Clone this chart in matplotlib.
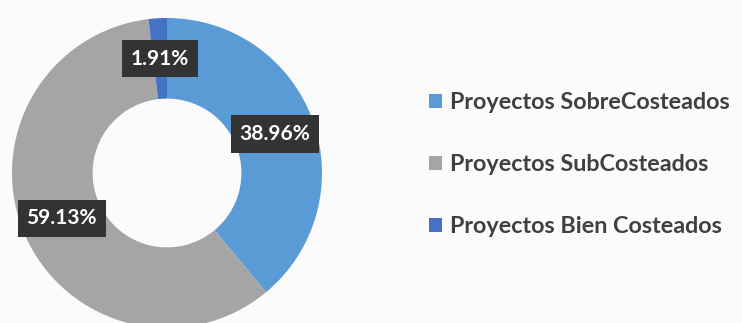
import matplotlib.pyplot as plt
from matplotlib.patches import Patch

categories = ["Proyectos SobreCosteados", "Proyectos SubCosteados", "Proyectos Bien Costeados"]
shares = [38.96, 59.13, 1.91]
colors = ["#5B9BD5", "#A5A5A5", "#4472C4"]

plt.rcParams["font.family"] = ["Lato", "DejaVu Sans"]

fig = plt.figure(figsize=(7.42, 3.23), dpi=100)
fig.patch.set_facecolor("#fbfbfb")

# donut sits on the left, slightly cut at the bottom
ax = fig.add_axes([12 / 742, -5 / 323, 310 / 742, 310 / 323])
ax.set_facecolor("none")
wedges, texts, autotexts = ax.pie(
    shares,
    colors=colors,
    startangle=90,
    counterclock=False,
    radius=1.0,
    wedgeprops=dict(width=0.52, edgecolor="none"),
    autopct=lambda p: f"{p:.2f}%",
    pctdistance=0.74,
)
for t in autotexts:
    t.set_color("white")
    t.set_fontsize(15)
    t.set_fontweight("bold")
    t.set_bbox(dict(boxstyle="square,pad=0.42", facecolor="#333333", edgecolor="none"))
ax.set_xlim(-1.0, 1.0)
ax.set_ylim(-1.0, 1.0)
ax.set_aspect("equal")

handles = [Patch(facecolor=c, edgecolor="none") for c in colors]
leg = fig.legend(
    handles, categories,
    loc="center left",
    bbox_to_anchor=(0.55, 0.49),
    frameon=False,
    fontsize=16.8,
    handlelength=0.55,
    handleheight=0.55,
    handletextpad=0.35,
    labelspacing=1.75,
)
for t in leg.get_texts():
    t.set_color("#404040")
    t.set_fontweight("bold")

fig.savefig("out.png", dpi=100, facecolor=fig.get_facecolor())
